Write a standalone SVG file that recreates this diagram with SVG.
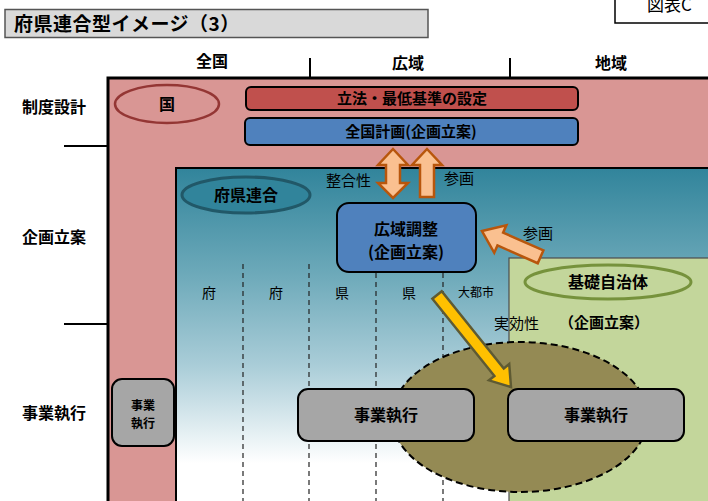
<svg xmlns="http://www.w3.org/2000/svg" width="708" height="501" viewBox="0 0 708 501">
<defs>
<linearGradient id="tealGrad" x1="0" y1="0" x2="0" y2="1">
<stop offset="0" stop-color="#31849b"/>
<stop offset="0.3" stop-color="#6eaaba"/>
<stop offset="0.55" stop-color="#aacdd8"/>
<stop offset="0.82" stop-color="#ffffff"/>
<stop offset="1" stop-color="#ffffff"/>
</linearGradient>
<style>
text{font-family:"Noto Sans CJK JP","Noto Sans CJK SC",sans-serif;fill:#000}
.b{font-weight:bold}
.c{text-anchor:middle}
.box{stroke:#000;stroke-width:2}
.orange{fill:#fac090;stroke:#b8560c;stroke-width:2.5;stroke-linejoin:miter}
.dash{stroke:#222;stroke-width:1.2;stroke-dasharray:5,4;fill:none}
</style>
</defs>
<rect width="708" height="501" fill="#ffffff"/>

<g id="title">
<rect x="5" y="9.5" width="423" height="28" fill="#d9d9d9" stroke="#555" stroke-width="1.5"/>
<text x="14" y="31" class="b" font-size="19" letter-spacing="0.5">府県連合型イメージ（3）</text>
</g>
<g id="figlabel">
<rect x="615" y="-5" width="100" height="28" fill="#fff" stroke="#000" stroke-width="1.5"/>
<text x="647" y="11" font-size="17">図表C</text>
</g>

<g id="headers">
<text x="212" y="67" class="b c" font-size="16">全国</text>
<text x="408" y="69" class="b c" font-size="16">広域</text>
<text x="611" y="69" class="b c" font-size="16">地域</text>
<line x1="310" y1="58" x2="310" y2="78" stroke="#000" stroke-width="2"/>
<line x1="510" y1="58" x2="510" y2="78" stroke="#000" stroke-width="2"/>
</g>

<g id="rowlabels">
<text x="54" y="113" class="b c" font-size="16">制度設計</text>
<text x="54" y="243" class="b c" font-size="16">企画立案</text>
<text x="54" y="419" class="b c" font-size="16">事業執行</text>
<line x1="64" y1="146" x2="108" y2="146" stroke="#000" stroke-width="2"/>
<line x1="64" y1="324" x2="108" y2="324" stroke="#000" stroke-width="2"/>
</g>

<g id="national">
<rect x="108" y="78" width="620" height="450" fill="#d99694" stroke="#000" stroke-width="3"/>
</g>
<g id="kuni">
<ellipse cx="167" cy="104" rx="52" ry="19" fill="none" stroke="#943634" stroke-width="2.5"/>
<text x="167" y="110" class="b c" font-size="16">国</text>
</g>
<g id="rippou">
<rect x="246" y="87" width="332" height="23" rx="5" fill="#c0504d" class="box" stroke-width="1.5"/>
<text x="412" y="104" class="b c" font-size="15">立法・最低基準の設定</text>
</g>
<g id="zenkokukeikaku">
<rect x="245" y="118" width="333" height="27" rx="5" fill="#4f81bd" class="box" stroke-width="1.5"/>
<text x="411" y="137" class="b c" font-size="15">全国計画(企画立案)</text>
</g>

<g id="prefecture-region">
<rect x="176" y="168" width="560" height="360" fill="url(#tealGrad)" stroke="#000" stroke-width="2"/>
</g>
<g id="columns">
<line x1="243" y1="264" x2="243" y2="501" class="dash"/>
<line x1="309" y1="264" x2="309" y2="501" class="dash"/>
<line x1="376" y1="264" x2="376" y2="501" class="dash"/>
<line x1="443" y1="264" x2="443" y2="501" class="dash"/>
<text x="209" y="298" class="c" font-size="14">府</text>
<text x="276" y="298" class="c" font-size="14">府</text>
<text x="342" y="298" class="c" font-size="14">県</text>
<text x="409" y="298" class="c" font-size="14">県</text>
<text x="476" y="297" class="c" font-size="12">大都市</text>
</g>
<g id="fukenrengo">
<ellipse cx="246" cy="195" rx="64" ry="18" fill="#31849b" stroke="#215868" stroke-width="3"/>
<text x="246" y="201" class="b c" font-size="16">府県連合</text>
</g>

<g id="municipal-region">
<rect x="509" y="258" width="230" height="270" fill="#c3d69b" stroke="#4d4d4d" stroke-width="1.2"/>
</g>
<g id="kisojichitai">
<ellipse cx="608" cy="282" rx="83" ry="17" fill="none" stroke="#76923c" stroke-width="3"/>
<text x="608" y="288" class="b c" font-size="16">基礎自治体</text>
</g>
<g id="kikakuritsuan-local">
<text x="559" y="328" class="b" font-size="15">（企画立案）</text>
</g>

<g id="execution-area">
<ellipse cx="520" cy="417" rx="128" ry="75" fill="#948a54" stroke="#000" stroke-width="2" stroke-dasharray="7,4"/>
</g>

<g id="koikichosei">
<rect x="337" y="203" width="139" height="69" rx="12" fill="#4f81bd" class="box"/>
<text x="406" y="235" class="b c" font-size="16">広域調整</text>
<text x="406" y="258" class="b c" font-size="16">(企画立案)</text>
</g>

<g id="jigyo-kuni">
<rect x="112" y="379" width="62" height="67" rx="10" fill="#a6a6a6" class="box"/>
<text x="143" y="410" class="b c" font-size="12">事業</text>
<text x="143" y="428" class="b c" font-size="12">執行</text>
</g>
<g id="jigyo-pref">
<rect x="298" y="389" width="176" height="52" rx="10" fill="#a6a6a6" class="box"/>
<text x="386" y="421" class="b c" font-size="16">事業執行</text>
</g>
<g id="jigyo-muni">
<rect x="508" y="389" width="176" height="52" rx="10" fill="#a6a6a6" class="box"/>
<text x="596" y="421" class="b c" font-size="16">事業執行</text>
</g>

<g id="connectors">
<polygon class="orange" points="393,149 408,165 400,165 400,183 408,183 393,198 378,183 386,183 386,165 378,165"/>
<polygon class="orange" points="427,149 442,165 434,165 434,197 420,197 420,165 412,165"/>
<polygon class="orange" transform="translate(482,231) rotate(23.8)" points="0,0 20,-15 20,-7 64,-7 64,7 20,7 20,15"/>
<polygon transform="translate(511,387) rotate(51.2)" points="0,0 -19,-13 -19,-6 -118,-6 -118,6 -19,6 -19,13" fill="#ffc000" stroke="#5e5a33" stroke-width="2.5"/>
</g>
<g id="connector-labels">
<text x="326" y="186" font-size="15">整合性</text>
<text x="444" y="184" font-size="15">参画</text>
<text x="523" y="239" font-size="15">参画</text>
<text x="494" y="329" font-size="15">実効性</text>
</g>
</svg>
